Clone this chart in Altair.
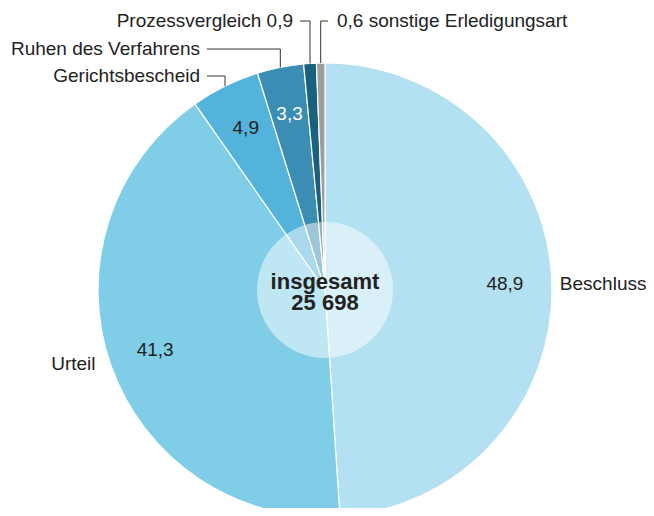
import math
import altair as alt
import pandas as pd

# ---- data ----
categories = ["Beschluss", "Urteil", "Gerichtsbescheid", "Ruhen des Verfahrens",
              "Prozessvergleich", "sonstige Erledigungsart"]
shares = [48.9, 41.3, 4.9, 3.3, 0.9, 0.6]
colors = ["#b3e1f1", "#7fcde6", "#54b3db", "#3b8db3", "#18617f", "#9e9e9e"]
value_labels = ["48,9", "41,3", "4,9", "3,3", "0,9", "0,6"]
total_label = ["insgesamt", "25 698"]

# ---- layout ----
W, H = 638, 500
CX, CY = 317, 282
R = 227
R_VAL = 180
FONT = "Liberation Sans"
FS = 19
TXT = "#222222"

total = sum(shares)
mids = []
acc = 0.0
for s in shares:
    mids.append((acc + s / 2) / total * 2 * math.pi)
    acc += s


def polar(r, a):
    return CX + r * math.sin(a), CY - r * math.cos(a)


pie_df = pd.DataFrame({"cat": categories, "share": shares, "idx": list(range(len(shares)))})

# inner value labels (big slices)
val_rows = []
for i in range(4):
    x, y = polar(R_VAL, mids[i])
    val_rows.append({"px": x, "py": y, "t": value_labels[i], "white": categories[i] == "Ruhen des Verfahrens"})
val_df = pd.DataFrame(val_rows)

# outside name labels for big slices
bx, by = polar(R + 8, mids[0])
ux, uy = polar(R + 12, mids[1])
name_right_df = pd.DataFrame([{"px": bx, "py": by + 2, "t": categories[0]}])
name_left_df = pd.DataFrame([{"px": ux - 4, "py": uy - 5, "t": categories[1]}])

# leader lines for small slices: (label level y, horizontal end x, text, align)
leader_spec = [
    (68, 199, categories[2], "right"),
    (41, 199, categories[3], "right"),
    (13, 292, categories[4] + " " + value_labels[4], "right"),
    (13, 320, value_labels[5] + " " + categories[5], "left"),
]
seg_rows = []
lab_rows = []
for k, (ly, ex, text, align) in enumerate(leader_spec):
    ax, ay = polar(R, mids[2 + k])
    seg_rows.append({"x": ax, "y": ay, "x2": ax, "y2": ly})
    seg_rows.append({"x": ax, "y": ly, "x2": ex, "y2": ly})
    off = -7 if align == "right" else 9
    lab_rows.append({"px": ex + off, "py": ly, "t": text, "align": align})
seg_df = pd.DataFrame(seg_rows)
lab_df = pd.DataFrame(lab_rows)

xs = alt.Scale(domain=[0, W], nice=False, zero=False)
ys = alt.Scale(domain=[0, H], nice=False, zero=False, reverse=True)
X = lambda f: alt.X(f, type="quantitative", scale=xs, axis=None)
Y = lambda f: alt.Y(f, type="quantitative", scale=ys, axis=None)

pie = alt.Chart(pie_df).mark_arc(outerRadius=R, stroke="white", strokeWidth=1.2).encode(
    theta=alt.Theta("share:Q", stack=True),
    color=alt.Color("cat:N", scale=alt.Scale(domain=categories, range=colors), legend=None),
    order=alt.Order("idx:Q"),
    x=alt.value(CX), y=alt.value(CY),
)

hole = alt.Chart(pd.DataFrame({"a": [0]})).mark_arc(
    outerRadius=68, theta=0, theta2=2 * math.pi, color="white", opacity=0.5
).encode(x=alt.value(CX), y=alt.value(CY))

center = alt.Chart(pd.DataFrame({"a": [0]})).mark_text(
    text=total_label, font=FONT, fontSize=22, fontWeight="bold", color=TXT,
    lineHeight=21, baseline="middle", dy=-8
).encode(x=alt.value(CX), y=alt.value(CY))

vals_dark = alt.Chart(val_df[~val_df["white"]]).mark_text(
    font=FONT, fontSize=FS, color=TXT, baseline="middle").encode(
    x=X("px"), y=Y("py"), text="t:N")
vals_white = alt.Chart(val_df[val_df["white"]]).mark_text(
    font=FONT, fontSize=FS, color="white", baseline="middle").encode(
    x=X("px"), y=Y("py"), text="t:N")

names_l = alt.Chart(name_right_df).mark_text(
    font=FONT, fontSize=FS, color=TXT, align="left", baseline="middle").encode(
    x=X("px"), y=Y("py"), text="t:N")
names_r = alt.Chart(name_left_df).mark_text(
    font=FONT, fontSize=FS, color=TXT, align="right", baseline="middle").encode(
    x=X("px"), y=Y("py"), text="t:N")

segs = alt.Chart(seg_df).mark_rule(color="#333333", strokeWidth=1).encode(
    x=X("x"), y=Y("y"), x2="x2:Q", y2="y2:Q")

lab_r = alt.Chart(lab_df[lab_df["align"] == "right"]).mark_text(
    font=FONT, fontSize=FS, color=TXT, align="right", baseline="middle").encode(
    x=X("px"), y=Y("py"), text="t:N")
lab_l = alt.Chart(lab_df[lab_df["align"] == "left"]).mark_text(
    font=FONT, fontSize=FS, color=TXT, align="left", baseline="middle").encode(
    x=X("px"), y=Y("py"), text="t:N")

chart = alt.layer(pie, hole, center, vals_dark, vals_white, names_l, names_r,
                  segs, lab_r, lab_l).properties(
    width=W, height=H, padding=0,
    autosize=alt.AutoSizeParams(type="none"),
).configure_view(stroke=None)

chart.save("out.html", embed_options={"renderer": "svg", "actions": False})
